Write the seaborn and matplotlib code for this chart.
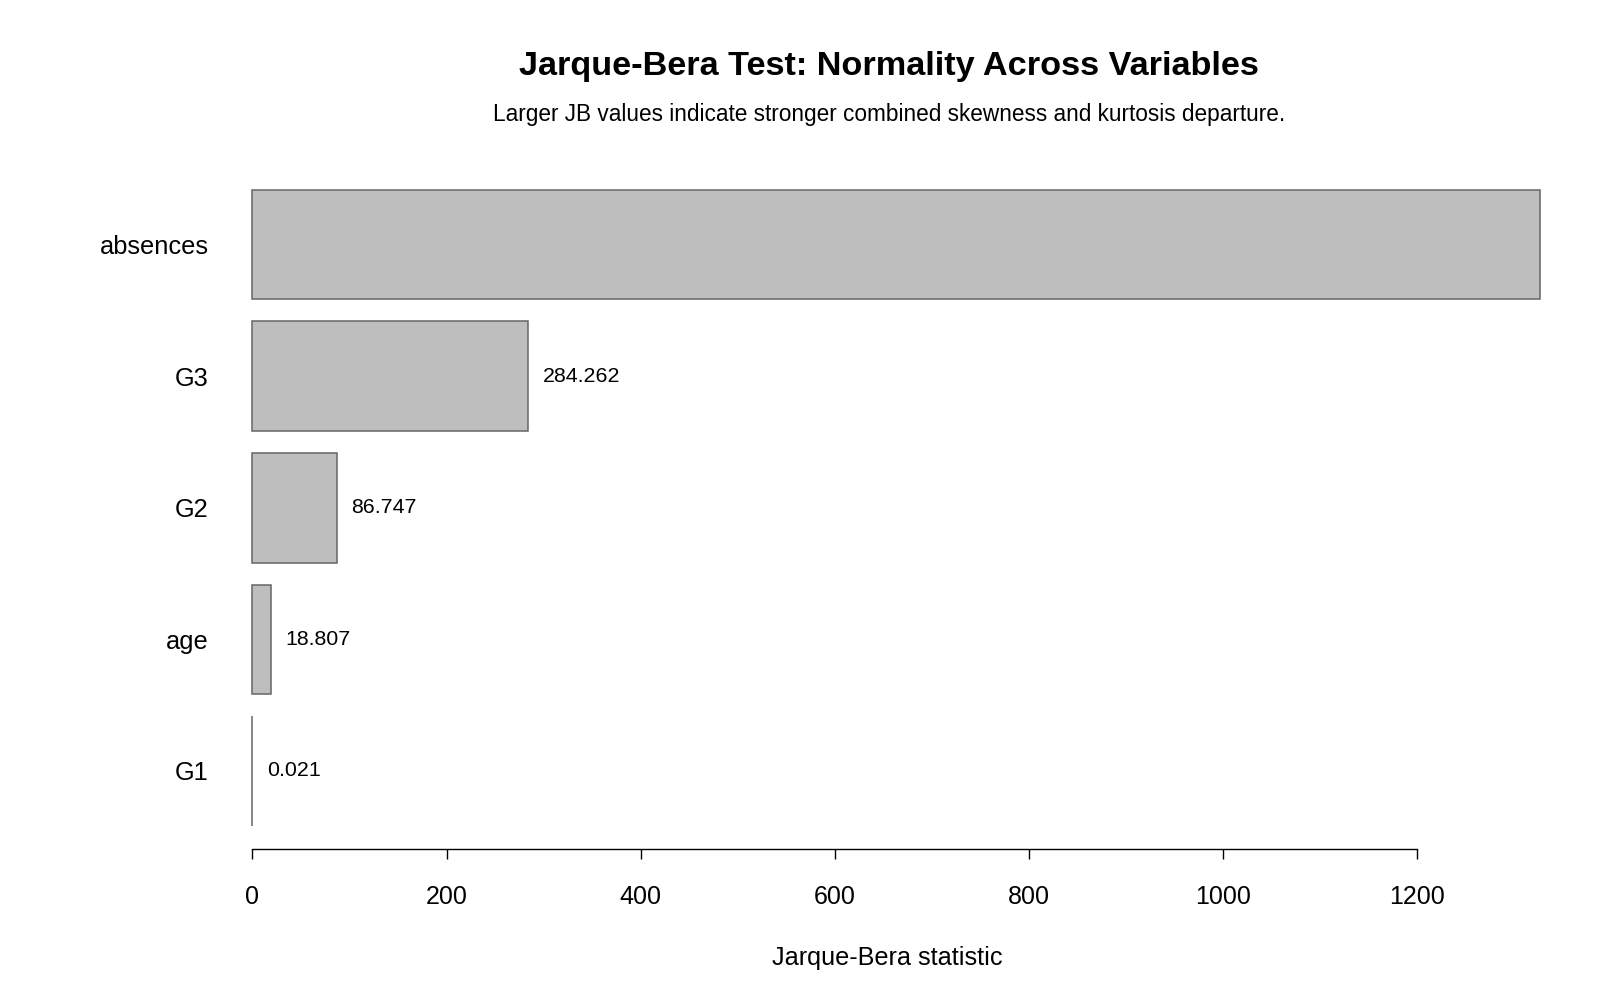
import numpy as np
import pandas as pd
import matplotlib
matplotlib.use("Agg")
import matplotlib.pyplot as plt
import seaborn as sns

# dados (de cima para baixo)
variaveis = ["absences", "G3", "G2", "age", "G1"]
jb_valores = [1326.0, 284.262, 86.747, 18.807, 0.021]

df = pd.DataFrame({"variavel": variaveis, "jb": jb_valores})
df["pos"] = np.arange(len(df))[::-1]

sns.set_theme(style="white")
plt.rcParams["font.family"] = ["Liberation Sans", "DejaVu Sans"]
plt.rcParams["text.color"] = "black"
plt.rcParams["xtick.color"] = "black"
plt.rcParams["ytick.color"] = "black"
plt.rcParams["axes.labelcolor"] = "black"

fig = plt.figure(figsize=(16, 10), dpi=100)
ax = fig.add_axes([201 / 1600, 0.151, 1390 / 1600, 0.669])

ax.barh(df["pos"], df["jb"], height=0.833, color="#BEBEBE",
        edgecolor="#666666", linewidth=1.1)

ax.set_xlim(-53, 1379)
ax.set_ylim(-0.593, 4.49)

# rótulos dos valores (o de absences cai fora da área do gráfico)
for p, v in zip(df["pos"], df["jb"]):
    if v < 1200:
        ax.annotate(f"{v:.3f}", xy=(v, p), xytext=(10.4, 0),
                    textcoords="offset points", ha="left", va="center",
                    fontsize=15.4, color="black")

for s in ["top", "right", "left"]:
    ax.spines[s].set_visible(False)
ax.spines["bottom"].set_bounds(0, 1200)
ax.spines["bottom"].set_color("black")
ax.spines["bottom"].set_linewidth(1.0)

ax.set_xticks(np.arange(0, 1201, 200))
ax.tick_params(axis="x", bottom=True, direction="out", length=7, width=1.0,
               color="black", labelsize=18, pad=19)
ax.set_yticks(df["pos"])
ax.set_yticklabels(df["variavel"])
ax.tick_params(axis="y", left=False, labelsize=18.3, pad=-11.5)

ax.set_xlabel("Jarque-Bera statistic", fontsize=18.2)
ax.xaxis.set_label_coords(0.494, -0.145)
ax.set_ylabel("")

fig.text(889 / 1600, 0.933, "Jarque-Bera Test: Normality Across Variables",
         ha="center", va="center", fontsize=24.7, fontweight="bold")
fig.text(889 / 1600, 0.885,
         "Larger JB values indicate stronger combined skewness and kurtosis departure.",
         ha="center", va="center", fontsize=16.3)

fig.savefig("out.png", dpi=100)
